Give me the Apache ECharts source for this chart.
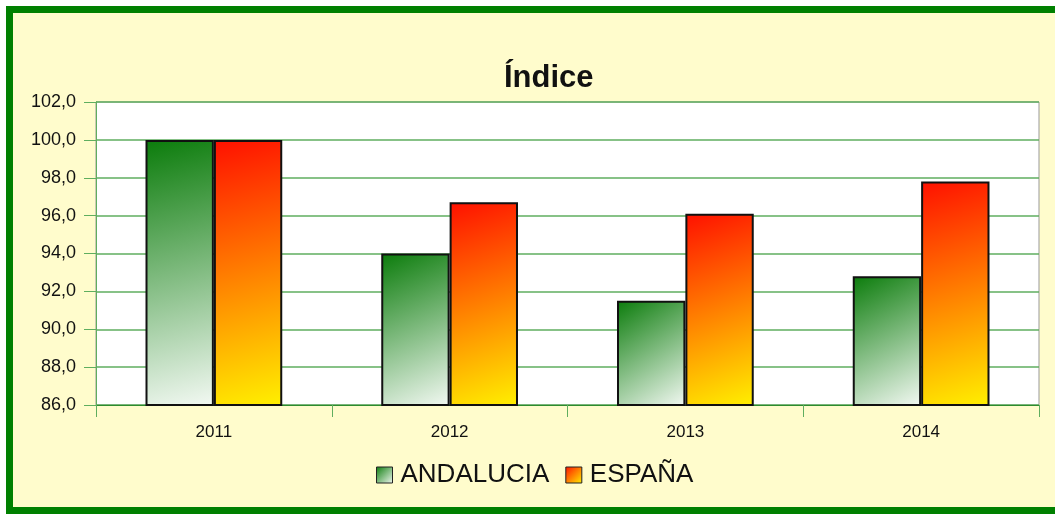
<!DOCTYPE html>
<html>
<head>
<meta charset="utf-8">
<script src="https://cdn.jsdelivr.net/npm/echarts@6/dist/echarts.min.js"></script>
<style>
  html, body { margin: 0; padding: 0; background: #fff; }
  #chart { width: 1055px; height: 514px; }
</style>
</head>
<body>
<div id="chart"></div>
<script>
const years = ['2011', '2012', '2013', '2014'];
const andalucia = [100.0, 94.0, 91.5, 92.8];
const espana = [100.0, 96.7, 96.1, 97.8];
const yTicks = { min: 86, max: 102, step: 2 };

function greenFill() {
  return new echarts.graphic.LinearGradient(0, 0, 1, 1, [
    { offset: 0, color: '#0b7c0b' },
    { offset: 1, color: '#f3f9f3' }
  ]);
}
function orangeFill() {
  return new echarts.graphic.LinearGradient(0, 0, 1, 1, [
    { offset: 0, color: '#ff1000' },
    { offset: 0.5, color: '#ff8000' },
    { offset: 1, color: '#fff000' }
  ]);
}

const font = 'Liberation Sans, Arial, sans-serif';
const gridGreen = '#5fae5f';

const chart = echarts.init(document.getElementById('chart'));
chart.setOption({
  backgroundColor: '#fff',
  animation: false,
  textStyle: { fontFamily: font },
  graphic: [{
    type: 'rect',
    z: -10,
    shape: { x: 9.5, y: 9.5, width: 1100, height: 501 },
    style: { fill: '#fffccc', stroke: '#008000', lineWidth: 7 }
  }],
  title: {
    text: 'Índice',
    left: 499,
    top: 58,
    textStyle: { fontFamily: font, fontSize: 31, fontWeight: 'bold', color: '#111' }
  },
  grid: {
    left: 96, right: 16, top: 102, bottom: 109,
    show: true, backgroundColor: '#fff', borderColor: '#999', borderWidth: 1
  },
  legend: {
    bottom: 21,
    left: 371,
    itemWidth: 16,
    itemHeight: 16,
    itemGap: 16,
    icon: 'rect',
    textStyle: { fontFamily: font, fontSize: 26, color: '#111', padding: [0, 0, 0, 3] },
    data: [
      { name: 'ANDALUCIA', itemStyle: { color: greenFill(), borderColor: '#222', borderWidth: 1 } },
      { name: 'ESPAÑA', itemStyle: { color: orangeFill(), borderColor: '#222', borderWidth: 1 } }
    ]
  },
  xAxis: {
    type: 'category',
    data: years,
    axisLine: { lineStyle: { color: '#2e8b2e', width: 1 } },
    axisTick: { show: true, length: 12, lineStyle: { color: gridGreen } },
    axisLabel: { fontSize: 17, color: '#111', margin: 19 }
  },
  yAxis: {
    type: 'value',
    min: yTicks.min,
    max: yTicks.max,
    interval: yTicks.step,
    axisLine: { show: true, lineStyle: { color: gridGreen } },
    axisTick: { show: true, length: 12, lineStyle: { color: gridGreen } },
    axisLabel: {
      fontSize: 18, color: '#111', margin: 20,
      formatter: v => v.toFixed(1).replace('.', ',')
    },
    splitLine: { lineStyle: { color: gridGreen, width: 1.5 } }
  },
  series: [
    {
      name: 'ANDALUCIA',
      type: 'bar',
      data: andalucia,
      barGap: '0%',
      barCategoryGap: '42%',
      itemStyle: { color: greenFill(), borderColor: '#111', borderWidth: 2 }
    },
    {
      name: 'ESPAÑA',
      type: 'bar',
      data: espana,
      itemStyle: { color: orangeFill(), borderColor: '#111', borderWidth: 2 }
    }
  ]
});
</script>
</body>
</html>
